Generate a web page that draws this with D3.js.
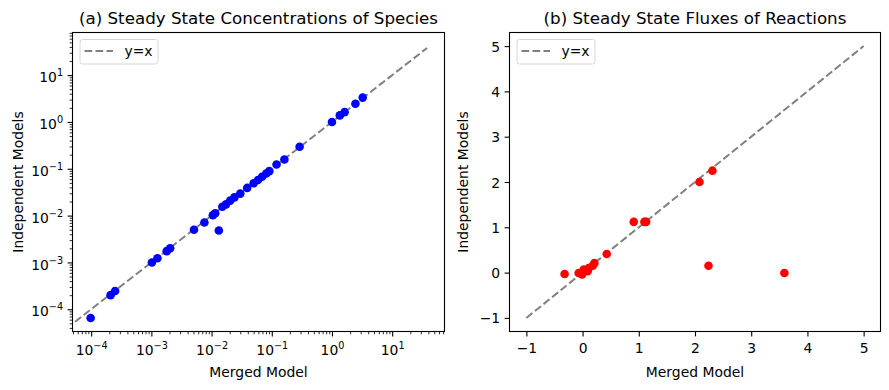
<!DOCTYPE html>
<html>
<head>
<meta charset="utf-8">
<script src="https://cdn.jsdelivr.net/npm/d3@7"></script>
<style>
  body { margin: 0; background: #fff; }
  svg { display: block; font-family: "DejaVu Sans", sans-serif; }
</style>
</head>
<body>
<div id="chart"></div>
<script>
// (a) species concentrations, merged vs independent
const speciesMerged = [9.8e-5, 2.1e-4, 2.5e-4, 1.02e-3, 1.26e-3, 1.8e-3, 2.05e-3, 5.1e-3, 7.6e-3,
  0.0105, 0.0115, 0.0132, 0.0151, 0.0174, 0.0204, 0.024, 0.030, 0.039, 0.050, 0.059, 0.069,
  0.081, 0.091, 0.12, 0.162, 0.29, 1.0, 1.35, 1.62, 2.45, 3.24];
const speciesIndep = [6.5e-5, 2.0e-4, 2.45e-4, 1.0e-3, 1.23e-3, 1.74e-3, 2.0e-3, 5.0e-3, 7.1e-3,
  0.0102, 0.0112, 0.0048, 0.0155, 0.0174, 0.0209, 0.0245, 0.0295, 0.039, 0.049, 0.0575, 0.0676,
  0.079, 0.089, 0.123, 0.158, 0.295, 1.0, 1.38, 1.62, 2.45, 3.31];

// (b) reaction fluxes
const fluxMerged = [-0.32, -0.07, -0.01, 0.02, 0.09, 0.11, 0.18, 0.21, 0.43, 0.91, 1.10, 1.13, 2.08, 2.31, 2.24, 3.59];
const fluxIndep = [-0.03, -0.01, -0.04, 0.07, 0.03, 0.10, 0.15, 0.21, 0.41, 1.12, 1.12, 1.12, 2.0, 2.25, 0.15, -0.01];

const logTicks = [1e-4, 1e-3, 1e-2, 1e-1, 1e0, 1e1];
const logExps = ["−4", "−3", "−2", "−1", "0", "1"];
const linTicks = [-1, 0, 1, 2, 3, 4, 5];
const speciesLine = [5.4e-5, 38];
const fluxLine = [-1, 5];

const titles = ["(a) Steady State Concentrations of Species", "(b) Steady State Fluxes of Reactions"];
const xTitle = "Merged Model";
const yTitle = "Independent Models";

const W = 889, H = 390;
const TOP = 32.5, BOTTOM = 331.5;
const PANELS = [{ left: 72.5, right: 444.5 }, { left: 509.5, right: 880.5 }];
const MAJOR = 4.9, MINOR = 2.8;
const FS = 13.9;
const DASH = "7.7,3.3";

const svg = d3.select("#chart").append("svg").attr("width", W).attr("height", H);

function minorLogTicks(lo, hi) {
  let out = [];
  for (let e = Math.floor(Math.log10(lo)); e <= Math.ceil(Math.log10(hi)); e++) {
    for (let m = 2; m <= 9; m++) {
      const v = m * Math.pow(10, e);
      if (v >= lo && v <= hi) out.push(v);
    }
  }
  return out;
}

function styleAxis(g) {
  g.select(".domain").remove();
  g.selectAll(".tick line").attr("stroke", "#000").attr("stroke-width", 1.1);
  g.selectAll(".tick text").attr("fill", "#000").attr("font-size", FS)
    .attr("font-family", "DejaVu Sans, sans-serif");
}

function powLabels(g) {
  g.selectAll(".tick text").each(function (d) {
    const t = d3.select(this).text("");
    t.append("tspan").text("10");
    t.append("tspan").attr("font-size", 9.7).attr("dy", -6).text(logExps[logTicks.indexOf(d)]);
  });
}

function drawPanel(idx, x, y, xs, ys, color, line, isLog) {
  const p = PANELS[idx];
  const g = svg.append("g");

  // title + axis labels
  g.append("text").attr("x", (p.left + p.right) / 2).attr("y", 24)
    .attr("text-anchor", "middle").attr("font-size", 16.7).attr("fill", "#000").text(titles[idx]);
  g.append("text").attr("x", (p.left + p.right) / 2).attr("y", 376.5)
    .attr("text-anchor", "middle").attr("font-size", FS).attr("fill", "#000").text(xTitle);
  const yl = idx === 0 ? 18 : 463;
  g.append("text").attr("transform", `translate(${yl},${(TOP + BOTTOM) / 2}) rotate(-90)`)
    .attr("text-anchor", "middle").attr("dy", "0.35em").attr("font-size", FS).attr("fill", "#000").text(yTitle);

  // axes
  const xAxis = g.append("g").attr("transform", `translate(0,${BOTTOM})`);
  const yAxis = g.append("g").attr("transform", `translate(${p.left},0)`);
  if (isLog) {
    xAxis.call(d3.axisBottom(x).tickValues(logTicks).tickSize(MAJOR).tickPadding(8.7));
    yAxis.call(d3.axisLeft(y).tickValues(logTicks).tickSize(MAJOR).tickPadding(4.5));
    styleAxis(xAxis); styleAxis(yAxis);
    yAxis.selectAll(".tick text").attr("dy", "0.48em");
    powLabels(xAxis); powLabels(yAxis);
    const xm = g.append("g").attr("transform", `translate(0,${BOTTOM})`)
      .call(d3.axisBottom(x).tickValues(minorLogTicks(...x.domain())).tickSize(MINOR).tickFormat(""));
    const ym = g.append("g").attr("transform", `translate(${p.left},0)`)
      .call(d3.axisLeft(y).tickValues(minorLogTicks(...y.domain())).tickSize(MINOR).tickFormat(""));
    styleAxis(xm); styleAxis(ym);
    xm.selectAll(".tick line").attr("stroke-width", 0.83);
    ym.selectAll(".tick line").attr("stroke-width", 0.83);
  } else {
    const fmt = (d) => (d < 0 ? "−" + Math.abs(d) : d);
    xAxis.call(d3.axisBottom(x).tickValues(linTicks).tickSize(MAJOR).tickPadding(6.4).tickFormat(fmt));
    yAxis.call(d3.axisLeft(y).tickValues(linTicks).tickSize(MAJOR).tickPadding(4.5).tickFormat(fmt));
    styleAxis(xAxis); styleAxis(yAxis);
    yAxis.selectAll(".tick text").attr("dy", "0.36em");
  }

  // y = x reference line
  g.append("line")
    .attr("x1", x(line[0])).attr("y1", y(line[0]))
    .attr("x2", x(line[1])).attr("y2", y(line[1]))
    .attr("stroke", "#808080").attr("stroke-width", 2).attr("stroke-dasharray", DASH);

  // points
  g.append("g").selectAll("circle").data(xs.map((v, i) => [v, ys[i]])).join("circle")
    .attr("cx", (d) => x(d[0])).attr("cy", (d) => y(d[1]))
    .attr("r", 4.3).attr("fill", color);

  // frame
  g.append("rect").attr("x", p.left).attr("y", TOP)
    .attr("width", p.right - p.left).attr("height", BOTTOM - TOP)
    .attr("fill", "none").attr("stroke", "#000").attr("stroke-width", 1.1);

  // legend
  const lg = g.append("g").attr("transform", `translate(${p.left + 7.5},${TOP + 7})`);
  lg.append("rect").attr("width", 78).attr("height", 24.5).attr("rx", 2.5)
    .attr("fill", "#fff").attr("fill-opacity", 0.8).attr("stroke", "#d6d6d6").attr("stroke-width", 1);
  lg.append("line").attr("x1", 4.5).attr("x2", 33).attr("y1", 11.5).attr("y2", 11.5)
    .attr("stroke", "#808080").attr("stroke-width", 2).attr("stroke-dasharray", DASH);
  lg.append("text").attr("x", 44.5).attr("y", 16.5).attr("font-size", FS).attr("fill", "#000").text("y=x");
}

const xA = d3.scaleLog().domain([Math.pow(10, -4.31), Math.pow(10, 1.869)]).range([PANELS[0].left, PANELS[0].right]);
const yA = d3.scaleLog().domain([Math.pow(10, -4.475), Math.pow(10, 1.91)]).range([BOTTOM, TOP]);
drawPanel(0, xA, yA, speciesMerged, speciesIndep, "#0000ff", speciesLine, true);

const xB = d3.scaleLinear().domain([-1.3, 5.3]).range([PANELS[1].left, PANELS[1].right]);
const yB = d3.scaleLinear().domain([-1.3, 5.3]).range([BOTTOM, TOP]);
drawPanel(1, xB, yB, fluxMerged, fluxIndep, "#ff0000", fluxLine, false);
</script>
</body>
</html>
